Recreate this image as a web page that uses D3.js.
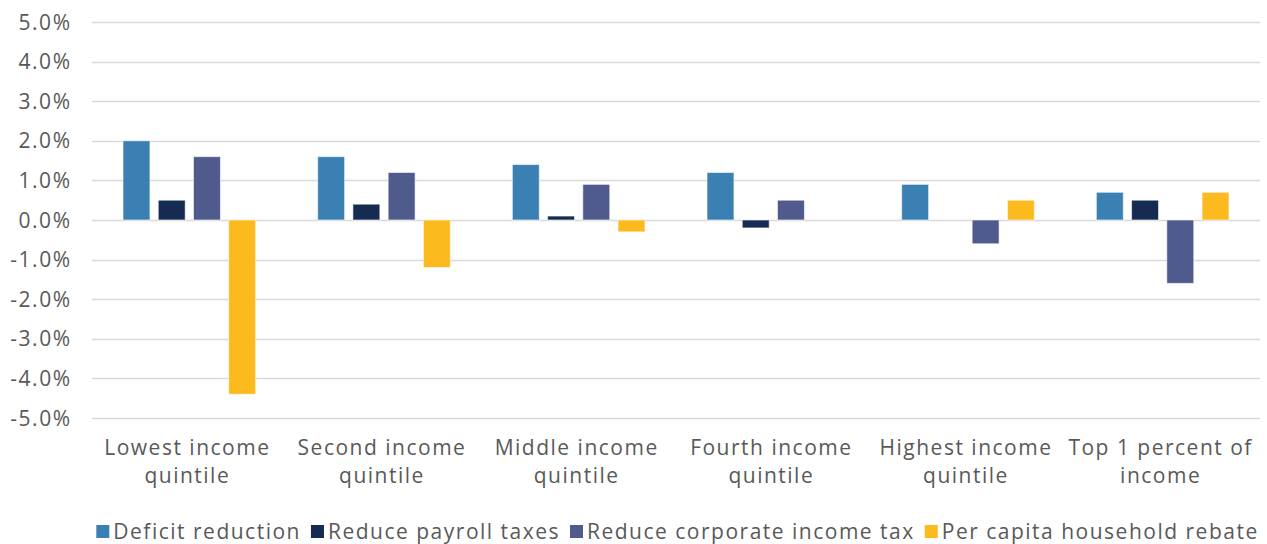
<!DOCTYPE html>
<html>
<head>
<meta charset="utf-8">
<script src="https://cdn.jsdelivr.net/npm/d3@7"></script>
<style>
  html, body { margin: 0; padding: 0; background: #fff; }
  svg { display: block; }
  text { font-family: "Open Sans", "DejaVu Sans", sans-serif; fill: #595959; font-size: 21px; letter-spacing: 1.5px; }
</style>
</head>
<body>
<svg id="chart" width="1267" height="544"></svg>
<script>
const categories = [
  ["Lowest income", "quintile"],
  ["Second income", "quintile"],
  ["Middle income", "quintile"],
  ["Fourth income", "quintile"],
  ["Highest income", "quintile"],
  ["Top 1 percent of", "income"]
];
const seriesNames = ["Deficit reduction", "Reduce payroll taxes", "Reduce corporate income tax", "Per capita household rebate"];
const deficitReduction = [2.0, 1.6, 1.4, 1.2, 0.9, 0.7];
const reducePayroll = [0.5, 0.4, 0.1, -0.2, 0.0, 0.5];
const reduceCorporate = [1.6, 1.2, 0.9, 0.5, -0.6, -1.6];
const perCapitaRebate = [-4.4, -1.2, -0.3, 0.0, 0.5, 0.7];
const yTicks = [5, 4, 3, 2, 1, 0, -1, -2, -3, -4, -5];
const yTickLabels = ["5.0%", "4.0%", "3.0%", "2.0%", "1.0%", "0.0%", "-1.0%", "-2.0%", "-3.0%", "-4.0%", "-5.0%"];
const colors = ["#3a80b3", "#152b52", "#4f5a8d", "#fcba1f"];

const seriesValues = [deficitReduction, reducePayroll, reduceCorporate, perCapitaRebate];
const svg = d3.select("#chart");
const plotLeft = 92, plotRight = 1260, plotTop = 22, plotBottom = 418;

const y = d3.scaleLinear().domain([-5, 5]).range([plotBottom, plotTop]);
const x0 = d3.scaleBand().domain(d3.range(categories.length)).range([plotLeft, plotRight]).paddingInner(0).paddingOuter(0);
const x1 = d3.scaleBand().domain(d3.range(seriesNames.length)).range([0, x0.bandwidth()]).paddingInner(0.235).paddingOuter(0.88);

// gridlines
svg.append("g").selectAll("line").data(yTicks).join("line")
  .attr("x1", plotLeft).attr("x2", plotRight)
  .attr("y1", d => Math.round(y(d)) + 0.5).attr("y2", d => Math.round(y(d)) + 0.5)
  .attr("stroke", "#d9d9d9").attr("stroke-width", 1.5);

// y labels
svg.append("g").selectAll("text").data(yTicks).join("text")
  .attr("x", 71.5).attr("y", d => y(d))
  .attr("dy", "0.36em")
  .attr("text-anchor", "end")
  .text((d, i) => yTickLabels[i]);

// bars
const groups = svg.append("g").selectAll("g").data(categories).join("g")
  .attr("transform", (d, i) => `translate(${x0(i)},0)`);
groups.selectAll("rect").data((d, i) => seriesValues.map((s, k) => ({k, v: s[i]}))).join("rect")
  .filter(d => d.v !== 0)
  .attr("x", d => x1(d.k))
  .attr("width", x1.bandwidth())
  .attr("y", d => y(Math.max(0, d.v)))
  .attr("height", d => Math.abs(y(d.v) - y(0)))
  .attr("fill", d => colors[d.k])
  .attr("stroke", "#ffffff").attr("stroke-opacity", 0.6).attr("stroke-width", 1);

// x labels
const xl = svg.append("g").selectAll("text").data(categories).join("text")
  .attr("x", (d, i) => x0(i) + x0.bandwidth() / 2 - 2)
  .attr("y", 455)
  .attr("text-anchor", "middle");
xl.selectAll("tspan").data(d => d).join("tspan")
  .attr("x", function() { return this.parentNode.getAttribute("x"); })
  .attr("dy", (d, j) => j === 0 ? 0 : 28)
  .text(d => d);

// legend
const legend = svg.append("g");
const items = legend.selectAll("g").data(seriesNames).join("g");
items.append("rect").attr("width", 13).attr("height", 13).attr("y", -14).attr("fill", (d, i) => colors[i]);
items.append("text").attr("x", 17).attr("y", 0).text(d => d);
const widths = [];
items.each(function() { widths.push(17 + d3.select(this).select("text").node().getComputedTextLength()); });
const gap = 10;
const total = d3.sum(widths) + gap * (widths.length - 1);
let cx = (93 + 1262) / 2 - total / 2;
items.attr("transform", (d, i) => { const t = `translate(${cx},539)`; cx += widths[i] + gap; return t; });
</script>
</body>
</html>
